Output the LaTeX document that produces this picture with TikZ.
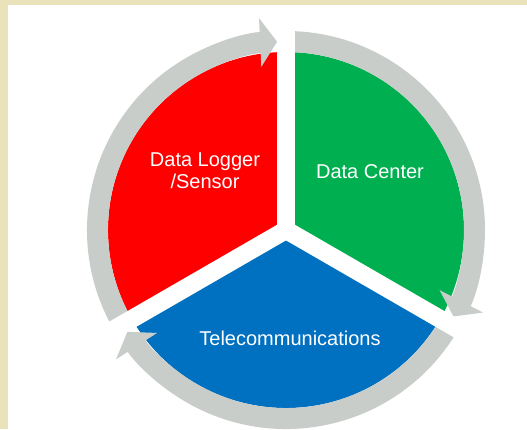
\documentclass[tikz,border=0pt]{standalone}
\usepackage{fontspec}
\setmainfont{Liberation Sans}
\usepackage{tikz}
\usetikzlibrary{arrows.meta}

\definecolor{pagebeige}{RGB}{233,226,186}
\definecolor{ringgray}{RGB}{201,205,202}
\definecolor{loggerred}{RGB}{255,0,0}
\definecolor{centergreen}{RGB}{0,176,80}
\definecolor{telecomblue}{RGB}{0,112,192}

\tikzset{
  ring/.style={draw=ringgray, line width=21pt,
    -{Triangle[width=48pt,length=17pt]}},
  gap/.style={draw=white, line width=18pt},
  label/.style={text=white, align=center,
    font=\fontsize{20}{22}\selectfont}
}

\begin{document}
\begin{tikzpicture}[x=1pt,y=1pt]

\useasboundingbox (0,0) rectangle (527,429);
\fill[pagebeige] (0,0) rectangle (527,429);
\fill[white] (8.3,0) rectangle (527,424);

\coordinate (hub) at (286,199);

% the three sectors
\fill[loggerred] (hub) -- ++(90:178) arc[start angle=90, end angle=210, radius=178] -- cycle;
\fill[centergreen] (hub) -- ++(-30:178) arc[start angle=-30, end angle=90, radius=178] -- cycle;
\fill[telecomblue] (hub) -- ++(210:178) arc[start angle=210, end angle=330, radius=178] -- cycle;

% clockwise ring arrows
\draw[ring] (hub) ++(210:188.5) arc[start angle=210, end angle=92.7, radius=188.5];
\draw[ring] (hub) ++(90:188.5) arc[start angle=90, end angle=-27.3, radius=188.5];
\draw[ring] (hub) ++(330:188.5) arc[start angle=330, end angle=212.7, radius=188.5];

% white cuts between the sectors
\draw[gap] (hub) -- ++(90:215);
\draw[gap] (hub) -- ++(210:215);
\draw[gap] (hub) -- ++(-30:215);

\node[label] (logger) at (205,258) {Data Logger\\/Sensor};
\node[label] (datacenter) at (370,257) {Data Center};
\node[label] (telecom) at (290,91) {Telecommunications};

\end{tikzpicture}
\end{document}
